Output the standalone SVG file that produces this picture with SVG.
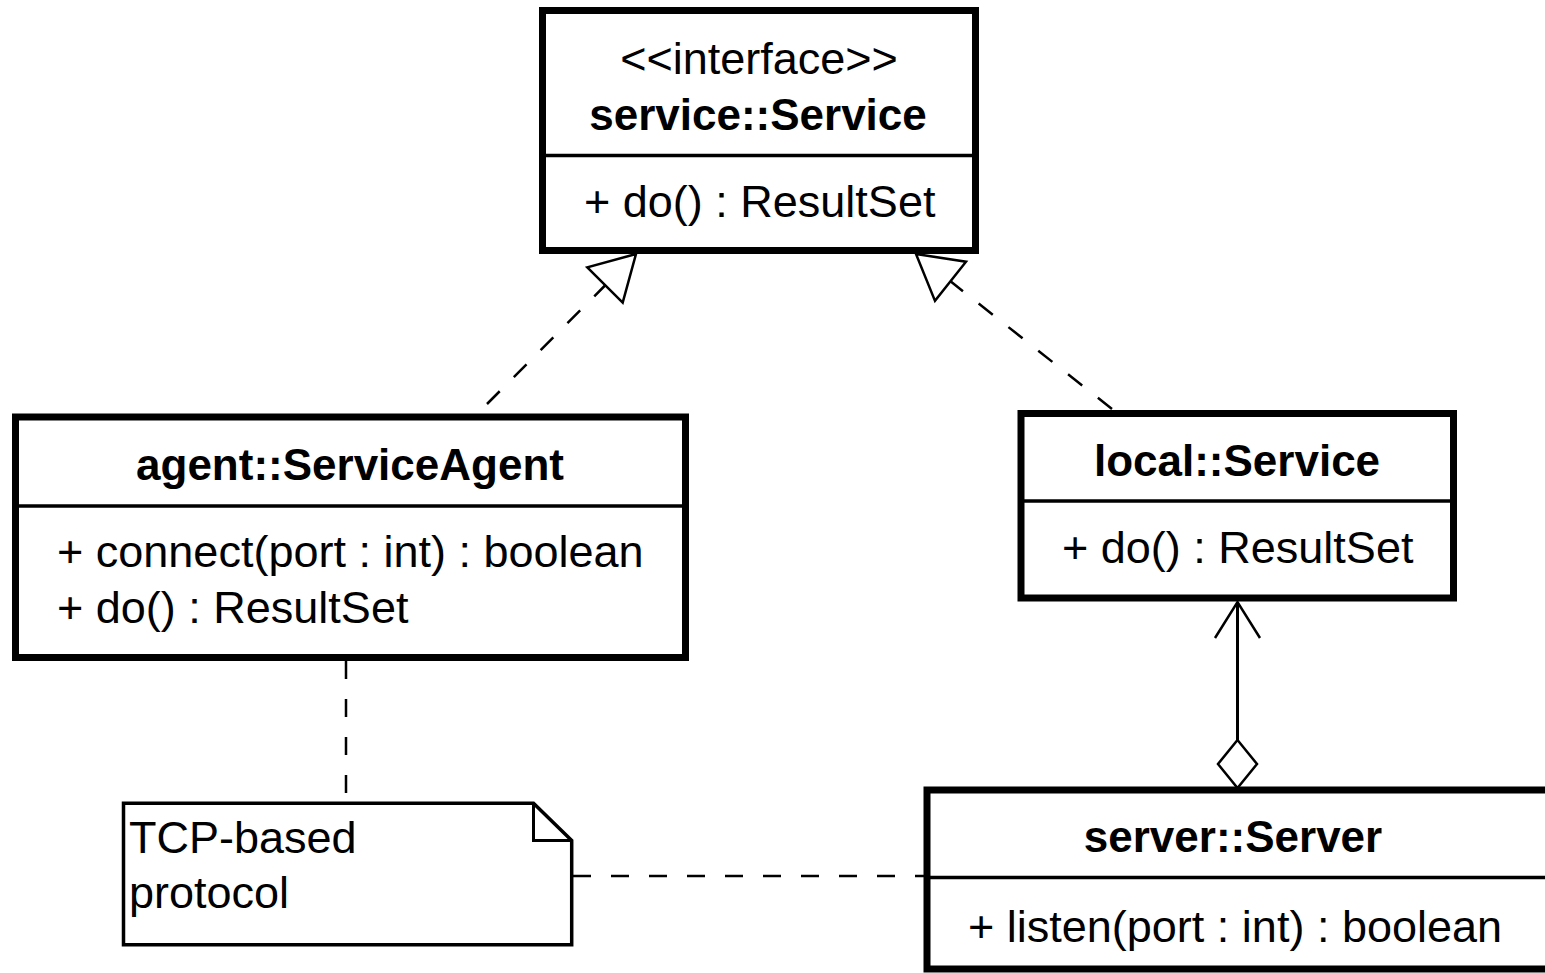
<svg xmlns="http://www.w3.org/2000/svg" width="1545" height="973" viewBox="0 0 1545 973">
  <style>
    .box { fill: #ffffff; stroke: #000000; stroke-width: 7; }
    .div { stroke: #000000; stroke-width: 3.5; }
    .title { font-family: "Liberation Sans", Arial, sans-serif; font-size: 44px; font-weight: bold; text-anchor: middle; fill: #000000; }
    .txt { font-family: "Liberation Sans", Arial, sans-serif; font-size: 45px; fill: #000000; }
    .mid { text-anchor: middle; }
    .dash { fill: none; stroke: #000000; stroke-width: 2.5; stroke-dasharray: 18 20; }
    .solid { fill: none; stroke: #000000; stroke-width: 3; }
    .head { fill: #ffffff; stroke: #000000; stroke-width: 2.5; stroke-linejoin: miter; }
    .note { fill: #ffffff; stroke: #000000; stroke-width: 3.5; }
    .fold { fill: none; stroke: #000000; stroke-width: 3; }
  </style>

  <!-- connectors -->
  <g id="connectors">
    <!-- realization: agent::ServiceAgent -> service::Service -->
    <line class="dash" x1="487" y1="404" x2="605" y2="285.5"/>
    <polygon class="head" points="636,254 587.3,267.3 622.7,302.7"/>
    <!-- realization: local::Service -> service::Service -->
    <line class="dash" x1="1112" y1="409" x2="950.5" y2="281.3"/>
    <polygon class="head" points="916,254 966,261.7 935,300.9"/>
    <!-- aggregation: server::Server -> local::Service -->
    <line class="solid" x1="1237.5" y1="602" x2="1237.5" y2="740"/>
    <polyline class="head" style="fill:none" points="1215,638 1237.5,602 1260,638"/>
    <polygon class="head" points="1237.5,740 1257,764 1237.5,788 1218,764"/>
    <!-- note anchors -->
    <line class="dash" x1="346" y1="661" x2="346" y2="803"/>
    <line class="dash" x1="573" y1="876" x2="927" y2="876"/>
  </g>

  <!-- interface service::Service -->
  <g id="service-Service">
    <rect class="box" x="542.5" y="10.5" width="433" height="240"/>
    <line class="div" x1="542.5" y1="155.5" x2="975.5" y2="155.5"/>
    <text class="txt mid" x="759" y="74">&lt;&lt;interface&gt;&gt;</text>
    <text class="title" x="758" y="130">service::Service</text>
    <text class="txt" x="584" y="217">+ do() : ResultSet</text>
  </g>

  <!-- class agent::ServiceAgent -->
  <g id="agent-ServiceAgent">
    <rect class="box" x="15.5" y="417" width="670" height="240.5"/>
    <line class="div" x1="15.5" y1="506" x2="685.5" y2="506"/>
    <text class="title" x="350" y="480">agent::ServiceAgent</text>
    <text class="txt" x="57" y="567">+ connect(port : int) : boolean</text>
    <text class="txt" x="57" y="623">+ do() : ResultSet</text>
  </g>

  <!-- class local::Service -->
  <g id="local-Service">
    <rect class="box" x="1021" y="413.5" width="432.5" height="184.5"/>
    <line class="div" x1="1021" y1="501" x2="1453.5" y2="501"/>
    <text class="title" x="1237" y="476">local::Service</text>
    <text class="txt" x="1062" y="563">+ do() : ResultSet</text>
  </g>

  <!-- class server::Server -->
  <g id="server-Server">
    <rect class="box" x="927" y="790" width="700" height="179"/>
    <line class="div" x1="927" y1="877.5" x2="1545" y2="877.5"/>
    <text class="title" x="1233" y="852">server::Server</text>
    <text class="txt" x="968" y="942">+ listen(port : int) : boolean</text>
  </g>

  <!-- note -->
  <g id="note-tcp">
    <path class="note" d="M123.5,803.3 L533.5,803.3 L571.7,840.5 L571.7,944.7 L123.5,944.7 Z"/>
    <path class="fold" d="M533.5,803.3 L533.5,840.5 L571.7,840.5"/>
    <text class="txt" x="129" y="853">TCP-based</text>
    <text class="txt" x="129" y="908">protocol</text>
  </g>
</svg>
